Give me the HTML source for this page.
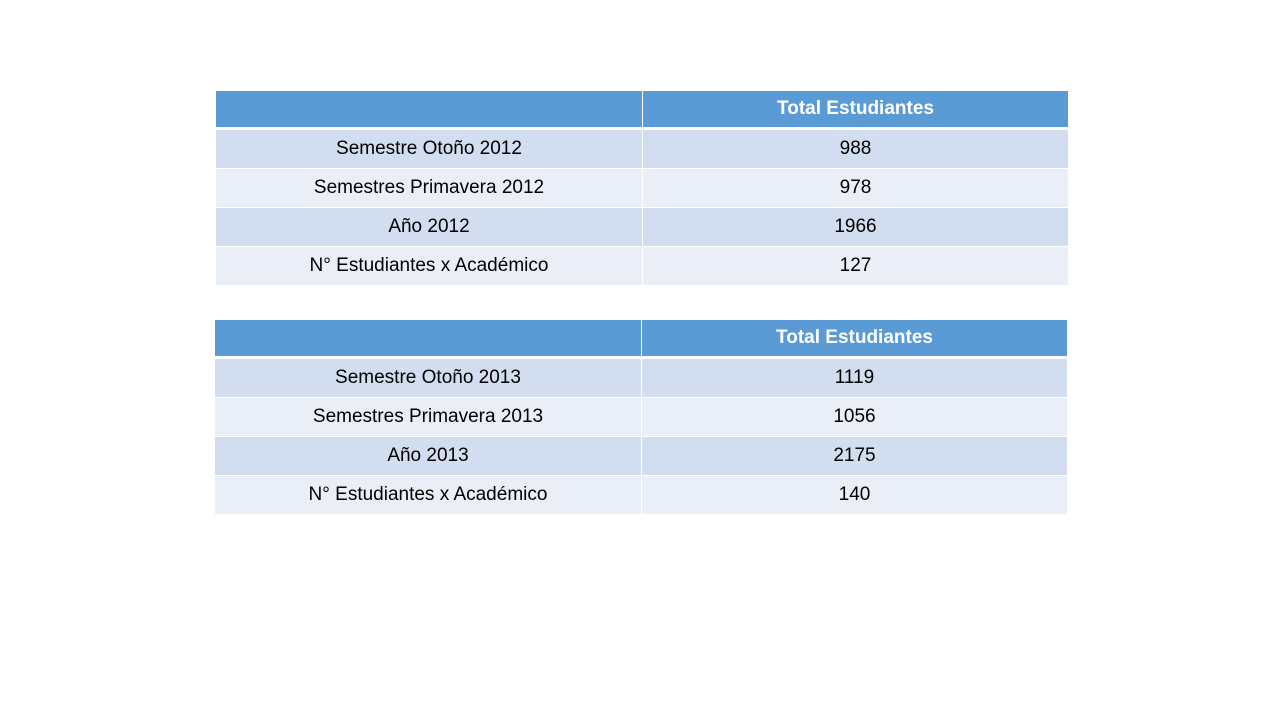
<!DOCTYPE html>
<html><head><meta charset="utf-8"><style>
body{margin:0;width:1280px;height:720px;background:#fff;position:relative;font-family:"Liberation Sans",sans-serif;overflow:hidden}
.c{position:absolute;display:flex;align-items:center;justify-content:center;font-size:19px;color:#000}
.h{background:#5B9BD5;color:#fff;font-weight:bold}
.o{background:#D2DEEF}.e{background:#EAEFF7}
</style></head><body>
<div id="root"></div>
<script>
const labels1=["Semestre Otoño 2012","Semestres Primavera 2012","Año 2012","N° Estudiantes x Académico"];
const values1=["988","978","1966","127"];
const labels2=["Semestre Otoño 2013","Semestres Primavera 2013","Año 2013","N° Estudiantes x Académico"];
const values2=["1119","1056","2175","140"];
const header="Total Estudiantes";
function cell(parent,x,y,w,h,cls,txt,name){
  const d=document.createElement('div');
  d.className='c '+cls;
  d.style.left=x+'px';d.style.top=y+'px';d.style.width=w+'px';d.style.height=h+'px';
  d.textContent=txt;
  
  
  parent.appendChild(d);
}
function table(x0,y0,split,x1,labels,values,tname){
  const root=document.getElementById('root');
  const t=document.createElement('div');
  
  
  root.appendChild(t);
  cell(t,x0,y0,split-x0,36,'h','',tname+'-header-blank');
  cell(t,split+1,y0,x1-split-1,36,'h',header,tname+'-header-total');
  labels.forEach((l,i)=>{
    const y=y0+39+i*39;const cls=i%2?'e':'o';
    cell(t,x0,y,split-x0,38,cls,l,tname+'-row-label');
    cell(t,split+1,y,x1-split-1,38,cls,values[i],tname+'-row-value');
  });
}
table(216,91,642,1068,labels1,values1,'table-2012');
table(215,320,641,1067,labels2,values2,'table-2013');
</script>
</body></html>
